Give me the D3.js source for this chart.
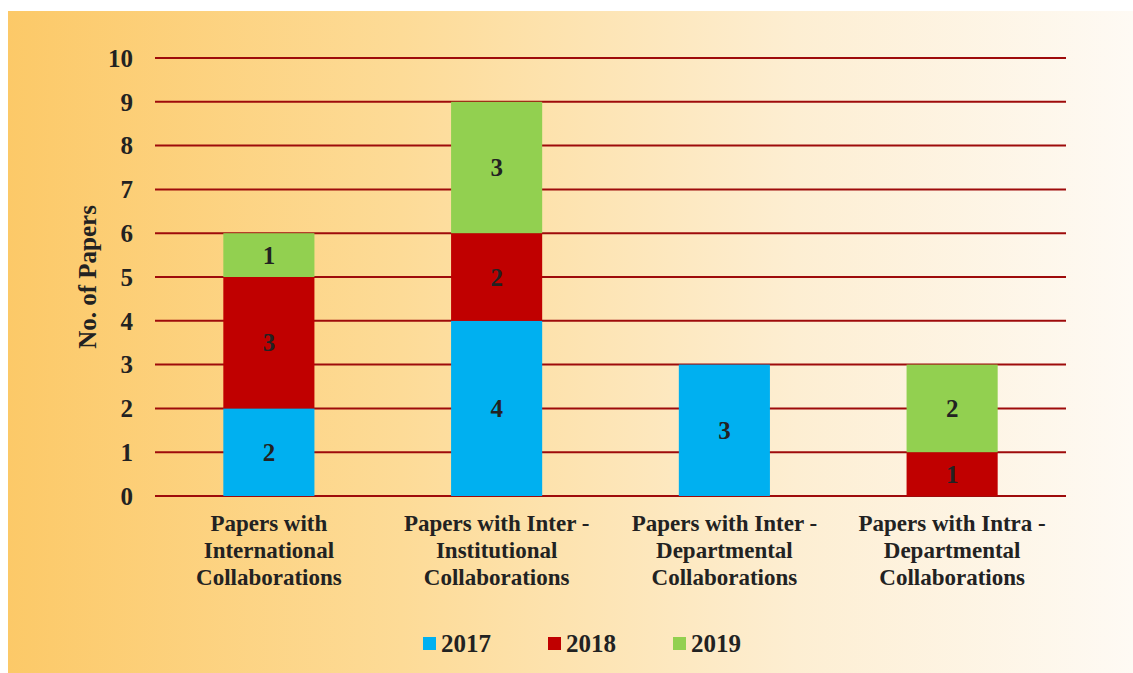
<!DOCTYPE html>
<html><head><meta charset="utf-8">
<script src="https://cdn.jsdelivr.net/npm/d3@7"></script>
<style>html,body{margin:0;padding:0;background:#fff;}svg{display:block;}</style>
</head><body>
<svg id="c" width="1133" height="673"></svg>
<script>
const categories = [
  ["Papers with", "International", "Collaborations"],
  ["Papers with Inter -", "Institutional", "Collaborations"],
  ["Papers with Inter -", "Departmental", "Collaborations"],
  ["Papers with Intra -", "Departmental", "Collaborations"]
];
const seriesNames = ["2017", "2018", "2019"];
const values2017 = [2, 4, 3, 0];
const values2018 = [3, 2, 0, 1];
const values2019 = [1, 3, 0, 2];
const yTicks = [0,1,2,3,4,5,6,7,8,9,10];
const colors = ["#00b0f0", "#c00000", "#92d050"];

const svg = d3.select("#c");
const defs = svg.append("defs");
const grad = defs.append("linearGradient").attr("id","bg").attr("x1","0").attr("x2","1").attr("y1","0").attr("y2","0");
[["0","#fcc968"],["0.35","#fddb97"],["0.7","#fdeed2"],["1","#fefaf4"]].forEach(s=>grad.append("stop").attr("offset",s[0]).attr("stop-color",s[1]));
svg.append("rect").attr("x",8).attr("y",11).attr("width",1125).attr("height",662).attr("fill","url(#bg)");

const font = "'Liberation Serif','Times New Roman',Times,serif";
const keys = [0,1,2].map(String);
const data = categories.map((c,i)=>({i, "0":values2017[i], "1":values2018[i], "2":values2019[i]}));
const x = d3.scaleBand().domain(d3.range(categories.length)).range([155,1066]).paddingInner(0.6).paddingOuter(0.3);
const y = d3.scaleLinear().domain([0,10]).range([496,58]);

// gridlines
svg.append("g").selectAll("line").data(yTicks).join("line")
  .attr("x1",155).attr("x2",1066).attr("y1",d=>y(d)).attr("y2",d=>y(d))
  .attr("stroke","#9e0b0b").attr("stroke-width",2);

// y tick labels
svg.append("g").selectAll("text").data(yTicks).join("text")
  .attr("x",133).attr("y",d=>y(d)).attr("dy","0.35em").attr("text-anchor","end")
  .attr("font-family",font).attr("font-weight","bold").attr("font-size",25).attr("fill","#222")
  .text(d=>d);

// y title
svg.append("text").attr("transform","translate(96,277) rotate(-90)").attr("text-anchor","middle")
  .attr("font-family",font).attr("font-weight","bold").attr("font-size",25).attr("fill","#222")
  .text("No. of Papers");

const stack = d3.stack().keys(keys)(data);
const g = svg.append("g");
stack.forEach((layer,k)=>{
  g.selectAll(null).data(layer.filter(d=>d[1]-d[0]>0)).join("rect")
    .attr("x",d=>x(d.data.i)).attr("width",x.bandwidth())
    .attr("y",d=>y(d[1])).attr("height",d=>y(d[0])-y(d[1]))
    .attr("fill",colors[k]);
  g.selectAll(null).data(layer.filter(d=>d[1]-d[0]>0)).join("text")
    .attr("x",d=>x(d.data.i)+x.bandwidth()/2).attr("y",d=>y((d[0]+d[1])/2)).attr("dy","0.35em")
    .attr("text-anchor","middle").attr("font-family",font).attr("font-weight","bold").attr("font-size",25).attr("fill","#222")
    .text(d=>d[1]-d[0]);
});

// x labels
categories.forEach((lines,i)=>{
  const t = svg.append("text").attr("text-anchor","middle").attr("font-family",font).attr("font-weight","bold").attr("font-size",23).attr("fill","#222");
  lines.forEach((ln,j)=>t.append("tspan").attr("x",x(i)+x.bandwidth()/2).attr("y",531+27*j).text(ln));
});

// legend
const legX = [423,548,673];
seriesNames.forEach((n,k)=>{
  svg.append("rect").attr("x",legX[k]).attr("y",637).attr("width",13).attr("height",13).attr("fill",colors[k]);
  svg.append("text").attr("x",legX[k]+18).attr("y",652).attr("font-family",font).attr("font-weight","bold").attr("font-size",25).attr("fill","#222").text(n);
});
</script>
</body></html>
